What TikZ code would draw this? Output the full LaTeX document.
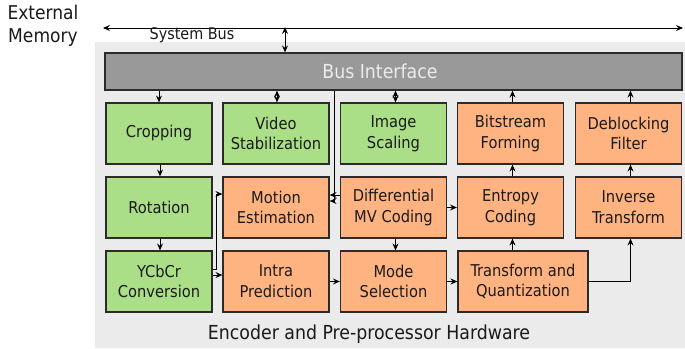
\documentclass[tikz,border=0pt]{standalone}
\usepackage{fontspec}
\setmainfont{DejaVu Sans Condensed}
\usetikzlibrary{arrows.meta}
\definecolor{pregreen}{HTML}{AADE87}
\definecolor{encorange}{HTML}{FFB380}
\definecolor{busgray}{HTML}{999999}
\definecolor{hwgray}{HTML}{EBEBEB}
\definecolor{edgegray}{HTML}{2B2B2B}
\definecolor{inkgray}{HTML}{1A1A1A}
\begin{document}
\begin{tikzpicture}[x=1pt,y=-1pt,
  blk/.style={draw=edgegray,line width=1.2pt,minimum width=106pt,minimum height=61pt,
    align=center,inner sep=2pt,text=inkgray,font=\fontsize{16.3}{20.7}\selectfont},
  pre/.style={blk,fill=pregreen},
  enc/.style={blk,fill=encorange},
  tip/.tip={Stealth[length=7pt,width=6pt,inset=2.5pt]},
  link/.style={draw=black,line width=0.9pt,-tip},
  both/.style={draw=black,line width=0.9pt,tip-tip},
  plain/.style={draw=black,line width=0.9pt}]
\useasboundingbox (0,0) rectangle (685,348);
% hardware area
\fill[hwgray] (95,42) rectangle (685,348);
% system bus
\coordinate (busL) at (103,28);
\coordinate (busR) at (683,28);
\coordinate (busTap) at (285,27);
\draw[both] (busL) -- (busR);
\node[font=\fontsize{19}{23}\selectfont,align=center,text=inkgray] (extmem) at (43,26) {External\\Memory};
\node[font=\fontsize{16}{19}\selectfont,text=inkgray] (sysbus) at (192,35) {System Bus};
% bus interface
\node[draw=edgegray,line width=1.2pt,fill=busgray,minimum width=577pt,minimum height=37pt,
  inner sep=0pt] (bif) at (393.5,71.5) {};
\node[text=hwgray,font=\fontsize{19.3}{23}\selectfont] (biftext) at (380,71) {Bus Interface};
\draw[both] (busTap) -- (busTap |- bif.north);
% row 1
\node[pre] (crop) at (159,133.5) {Cropping};
\node[pre] (vstab) at (276,133.5) {Video\\Stabilization};
\node[pre] (img) at (393.5,133.5) {Image\\Scaling};
\node[enc] (bit) at (510.5,133.5) {Bitstream\\Forming};
\node[enc] (deb) at (628.5,133.5) {Deblocking\\Filter};
% row 2
\node[pre] (rot) at (159,207.5) {Rotation};
\node[enc] (me) at (276,207.5) {Motion\\Estimation};
\node[enc] (dmv) at (393.5,207.5) {Differential\\MV Coding};
\node[enc] (ent) at (510.5,207.5) {Entropy\\Coding};
\node[enc] (inv) at (628.5,207.5) {Inverse\\Transform};
% row 3
\node[pre] (ycc) at (159,281.5) {YCbCr\\Conversion};
\node[enc] (intra) at (276,281.5) {Intra\\Prediction};
\node[enc] (mode) at (393.5,281.5) {Mode\\Selection};
\node[enc,minimum width=130pt] (trans) at (523,281.5) {Transform and\\Quantization};
% caption of the hardware area
\node[font=\fontsize{19.3}{23}\selectfont,text=inkgray] (hwlabel) at (369,334) {Encoder and Pre-processor Hardware};
% bus interface links
\draw[link] (crop.north |- bif.south) -- (crop.north);
\draw[both] ([xshift=1pt]vstab.north |- bif.south) -- ([xshift=1pt]vstab.north);
\draw[both] ([xshift=2pt]img.north |- bif.south) -- ([xshift=2pt]img.north);
\draw[link] ([xshift=2pt]bit.north) -- ([xshift=2pt]bit.north |- bif.south);
\draw[link] ([xshift=2pt]deb.north) -- ([xshift=2pt]deb.north |- bif.south);
\coordinate (meTap) at (334,201);
\draw[plain] (meTap |- bif.south) -- (meTap);
\draw[link] (meTap) -- (meTap -| me.east);
% pre-processing chain
\draw[link] ([xshift=1pt]crop.south) -- ([xshift=1pt]rot.north);
\draw[link] ([xshift=1pt]rot.south) -- ([xshift=1pt]ycc.north);
\coordinate (yccBend) at (216,269);
\draw[plain] (yccBend -| ycc.east) -- (yccBend) -- (216,194);
\draw[link] (216,194) -- (me.west |- 216,194);
\draw[link] ([yshift=6.5pt]ycc.east) -- ([yshift=6.5pt]intra.west);
% encoder data flow
\draw[link] ([yshift=12.5pt]dmv.west) -- ([yshift=12.5pt]me.east);
\draw[link] ([xshift=2pt]dmv.south) -- ([xshift=2pt]dmv.south |- mode.north);
\draw[link] (dmv.east) -- (ent.west);
\draw[link] (intra.east) -- (mode.west);
\draw[link] (mode.east) -- (trans.west);
\draw[link] ([xshift=2pt]ent.north) -- ([xshift=2pt]bit.south);
\draw[link] ([xshift=2pt]ent.south |- trans.north) -- ([xshift=2pt]ent.south);
\draw[link] (trans.east) -| ([xshift=2pt]inv.south);
\draw[link] ([xshift=2pt]inv.north) -- ([xshift=2pt]deb.south);
\end{tikzpicture}
\end{document}
